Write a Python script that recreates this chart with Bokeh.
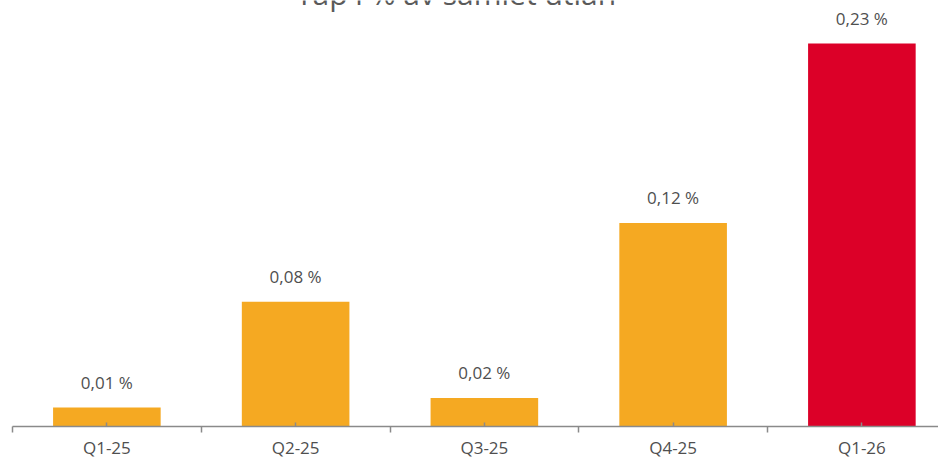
from bokeh.plotting import figure
from bokeh.models import ColumnDataSource, Range1d, FixedTicker, Label
from bokeh.core.properties import value
from bokeh.embed import file_html
from bokeh.resources import INLINE

# ---- data ----
categories = ["Q1-25", "Q2-25", "Q3-25", "Q4-25", "Q1-26"]
loss_pct = [0.0116, 0.0759, 0.0174, 0.1238, 0.2329]
bar_colors = ["#F5A922", "#F5A922", "#F5A922", "#F5A922", "#DC0028"]
title_text = "Tap i % av samlet utlån"

idx = list(range(len(categories)))
labels = [f"{v:.2f}".replace(".", ",") + " %" for v in loss_pct]

src = ColumnDataSource(dict(x=idx, top=loss_pct, color=bar_colors, label=labels))

FONT = "Open Sans"
TXT = "#4f4f4f"
PX_PER_UNIT = 1644
FRAME_H = 426
CAT_W = 188.75

p = figure(width=938, height=461, output_backend="svg", toolbar_location=None,
           x_range=Range1d(-0.5, -0.5 + 926 / CAT_W),
           y_range=Range1d(0, FRAME_H / PX_PER_UNIT),
           y_axis_location=None,
           min_border_left=12, min_border_right=0, min_border_top=0, min_border_bottom=0)
p.outline_line_color = None
p.grid.visible = False
p.background_fill_color = "white"
p.border_fill_color = "white"

p.vbar(x="x", top="top", bottom=0, width=0.57, color="color", line_color=None, source=src)

p.text(x="x", y="top", text="label", source=src, text_align="center",
       text_baseline="alphabetic", y_offset=-25,
       text_font=value(FONT), text_font_size="17px", text_color=TXT)

centers = [float(i) for i in idx]
bounds = [i - 0.5 for i in range(len(categories) + 1)]
ax = p.xaxis[0]
ax.ticker = FixedTicker(ticks=centers, minor_ticks=bounds)
ax.major_label_overrides = {float(i): c for i, c in zip(idx, categories)}
ax.major_label_overrides.update({i: c for i, c in zip(idx, categories)})
ax.major_tick_in = 4
ax.major_tick_out = 0
ax.minor_tick_in = 0
ax.minor_tick_out = 6
ax.axis_line_color = "#8a8a8a"
ax.axis_line_width = 1.5
ax.major_tick_line_color = "#8a8a8a"
ax.major_tick_line_width = 1.5
ax.minor_tick_line_color = "#8a8a8a"
ax.minor_tick_line_width = 1.5
ax.major_label_text_font = FONT
ax.major_label_text_font_size = "17px"
ax.major_label_text_color = TXT
ax.major_label_standoff = 3

p.add_layout(Label(x=1.85, y=(FRAME_H + 7) / PX_PER_UNIT, text=title_text, text_align="center",
                   text_baseline="alphabetic", text_font=FONT, text_font_size="30px",
                   text_font_style="normal", text_color="#5a5a5a"))

open("out.html", "w").write(file_html(p, INLINE))
